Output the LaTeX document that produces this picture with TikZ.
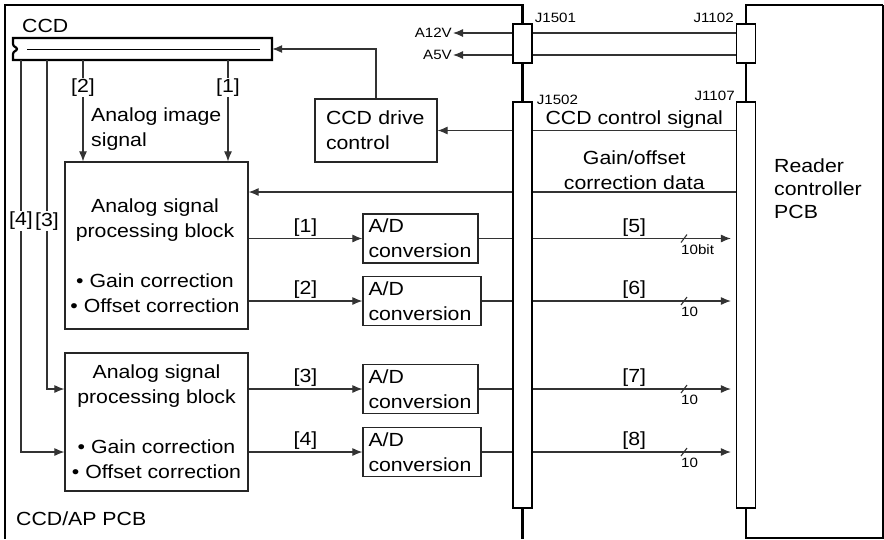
\documentclass[tikz,border=0pt]{standalone}
\usepackage{fontspec}
\setmainfont{Liberation Sans}[FakeStretch=1.12]
\usetikzlibrary{positioning, arrows.meta}

\begin{document}
\begin{tikzpicture}[x=1pt, y=-1pt, >={Latex[length=10pt, width=8pt]}, inner sep=2pt,
        font=\fontsize{19}{25}\selectfont,
        pcb/.style={line width=2.8pt},
        sig/.style={line width=1.1pt, color=black!80, text=black},
        bus/.style={sig, ->, shorten >=5pt},
        blk/.style={draw=black!85, line width=1.2pt, inner sep=0pt},
        adbox/.style={blk, align=left, text width=104pt, inner xsep=5.5pt, minimum height=49pt},
        jack/.style={draw, fill=white, line width=1.2pt, minimum width=19pt, inner sep=0pt},
        tag/.style={fill=white, inner sep=1pt},
        small/.style={font=\fontsize{13.5}{16}\selectfont, inner sep=1pt}]
    \useasboundingbox (0,0) rectangle (884,539);

    % connectors
    \node[jack, minimum height=39pt] (j1501) at (522.5,43.5) {};
    \node[jack, minimum height=39pt] (j1102) at (746,43.5) {};
    \node[jack, minimum height=406pt] (j1502) at (522.5,305) {};
    \node[jack, minimum height=406pt] (j1107) at (746,305) {};
    \node[small] (l1501) [above right=0pt and 1pt of j1501.north east] {J1501};
    \node[small] (l1102) [above left=0pt and 1pt of j1102.north west] {J1102};
    \node[small] (l1502) [above right=-4pt and 3pt of j1502.north east] {J1502};
    \node[small] (l1107) [above left=0pt and 0pt of j1107.north west] {J1107};

    % boards
    \draw[pcb] (j1501.north) -- (j1501.north |- 0,5) -- (5,5) -- (5,539);
    \draw[pcb] (j1501.south) -- (j1502.north) (j1502.south) -- (j1502.south |- 0,539);
    \draw[pcb] (j1102.north) -- (j1102.north |- 0,5) -- (883,5);
    \draw[pcb] (j1102.south) -- (j1107.north) (j1107.south) -- (j1107.south |- 0,539);
    \draw[line width=1.5pt] (883,5) -- (883,538) -- (j1107.south |- 0,538);
    \node[anchor=base west, inner sep=0pt] (appcb) at (16,525) {CCD/AP PCB};
    \node[align=left, anchor=north west, inner sep=0pt, font=\fontsize{19}{23}\selectfont] (rdr) at (774,159) {Reader\\controller\\PCB};

    % CCD sensor
    \node[minimum width=259pt, minimum height=22pt, inner sep=0pt] (ccd) at (142.5,49) {};
    \draw[line width=2.2pt] (13,44) -- (13,38) -- (272,38) -- (272,60) -- (13,60) -- (13,54)
        .. controls (13,51) and (17,51) .. (17,49) .. controls (17,47) and (13,47) .. (13,44) -- cycle;
    \draw[line width=1pt] (27,49) -- (260,49);
    \node[anchor=base west, inner sep=0pt] (ccdlbl) at (22,32) {CCD};

    % blocks
    \node[blk, minimum width=183pt, minimum height=167pt] (blk1) at (156.5,245.5) {};
    \node[align=center, inner sep=0pt] (blk1txt) at (155,256) {Analog signal\\processing block\\[25pt]• Gain correction\\• Offset correction};
    \node[blk, minimum width=183pt, minimum height=138pt, align=center] (blk2) at (156.5,422) {Analog signal\\processing block\\[25pt]• Gain correction\\• Offset correction};
    \node[blk, align=left, text width=100pt, inner xsep=11pt, minimum height=63pt] (drv) at (376,130.5) {CCD drive\\control};
    \node[adbox] (ad1) at (420.5,238.5) {A/D\\conversion};
    \node[adbox, text width=107pt] (ad2) at (422,301) {A/D\\conversion};
    \node[adbox] (ad3) at (420.5,389) {A/D\\conversion};
    \node[adbox, text width=107pt] (ad4) at (422,452) {A/D\\conversion};
    \node[align=left, anchor=north west, inner sep=0pt] (aimg) at (91,108) {Analog image\\signal};

    % analog image signal
    \path[sig,->] (ccd.south -| 83,0) edge node[tag, pos=0.27] {[2]} (blk1.north -| 83,0)
                  (ccd.south -| 228,0) edge node[tag, pos=0.27] {[1]} (blk1.north -| 228,0);
    \draw[sig,->] (ccd.south -| 47,0) |- node[tag, pos=0.245] {[3]} (blk2.west |- ad3);
    \draw[sig,->] (ccd.south -| 21,0) |- node[tag, pos=0.205] {[4]} (blk2.west |- ad4);

    % supply
    \node[small, anchor=east] (a12v) at (453,33) {A12V};
    \node[small, anchor=east] (a5v) at (453,55) {A5V};
    \path[sig,->] (j1501.west |- a12v) edge (a12v.east)
                  (j1501.west |- a5v) edge (a5v.east);
    \draw[sig] (j1501.east |- a12v) -- (j1102.west |- a12v)
               (j1501.east |- a5v) -- (j1102.west |- a5v);

    % control
    \path[sig,->] (drv -| j1502.west) edge (drv.east);
    \path[sig] (drv -| j1107.west) edge node[above] {CCD control signal} (drv -| j1502.east);
    \draw[sig,->] (drv.north) |- (ccd.east);
    \coordinate (gain) at (0,192);
    \path[sig] (gain -| j1107.west) edge node[above, align=center] {Gain/offset\\correction data} (gain -| j1502.east);
    \path[sig,->] (gain -| j1502.west) edge (gain -| blk1.east);

    % digital outputs
    \path[sig,->] (ad1 -| blk1.east) edge node[above] {[1]} (ad1.west)
                  (ad2 -| blk1.east) edge node[above] {[2]} (ad2.west)
                  (ad3 -| blk2.east) edge node[above] {[3]} (ad3.west)
                  (ad4 -| blk2.east) edge node[above] {[4]} (ad4.west);
    \draw[sig] (ad1.east) -- (ad1 -| j1502.west) (ad2.east) -- (ad2 -| j1502.west)
               (ad3.east) -- (ad3 -| j1502.west) (ad4.east) -- (ad4 -| j1502.west);
    \path[bus] (ad1 -| j1502.east) edge node[above] {[5]} (ad1 -| j1107.west)
               (ad2 -| j1502.east) edge node[above] {[6]} (ad2 -| j1107.west)
               (ad3 -| j1502.east) edge node[above] {[7]} (ad3 -| j1107.west)
               (ad4 -| j1502.east) edge node[above] {[8]} (ad4 -| j1107.west);
    \draw[sig] (ad1 -| 684,0) ++(-3,4) -- ++(6,-8) (ad2 -| 684,0) ++(-3,4) -- ++(6,-8)
               (ad3 -| 684,0) ++(-3,4) -- ++(6,-8) (ad4 -| 684,0) ++(-3,4) -- ++(6,-8);
    \node[small, anchor=north west, yshift=-5pt] (w5) at (ad1 -| 680,0) {10bit};
    \node[small, anchor=north west, yshift=-5pt] (w6) at (ad2 -| 680,0) {10};
    \node[small, anchor=north west, yshift=-5pt] (w7) at (ad3 -| 680,0) {10};
    \node[small, anchor=north west, yshift=-5pt] (w8) at (ad4 -| 680,0) {10};
\end{tikzpicture}
\end{document}
